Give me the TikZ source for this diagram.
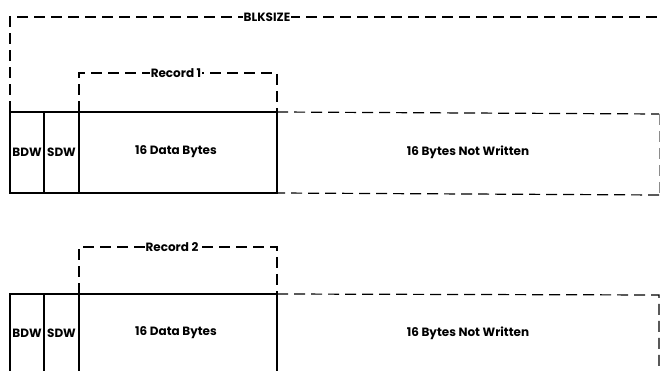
\documentclass[tikz,border=0pt]{standalone}
\usepackage{fontspec}
\setmainfont{Poppins}
\begin{document}
\begin{tikzpicture}[x=1pt,y=-1pt,
  solidline/.style={line width=1.6pt, line cap=rect},
  dashline/.style={line width=1.2pt, dash pattern=on 11pt off 6pt},
  faintdash/.style={line width=0.8pt, draw=black!45, dash pattern=on 11pt off 6pt},
  lbl/.style={font=\fontsize{12}{14}\selectfont\bfseries, inner sep=1pt, fill=white},
  cell/.style={font=\fontsize{12}{14}\selectfont\bfseries, inner sep=0pt}]
\useasboundingbox (0,0) rectangle (661,371);
% ---------- figure 1 ----------
\coordinate (a1) at (10,112); \coordinate (b1) at (44,112); \coordinate (c1) at (79,112); \coordinate (d1) at (277,112);
\coordinate (a1b) at (10,193); \coordinate (b1b) at (44,193); \coordinate (c1b) at (79,193); \coordinate (d1b) at (277,193);
\coordinate (tl1) at (10,17); \coordinate (tr1) at (661,17);
\coordinate (re1) at (659,114); \coordinate (re1b) at (659,195);
\coordinate (r1l) at (79,73); \coordinate (r1r) at (277,73);
\draw[dashline] (a1) -- (tl1) -- (tr1);
\node[lbl] (blk) at (267,17) {BLKSIZE};
\draw[dashline] (c1) -- (r1l) -- (r1r) -- (d1);
\node[lbl] (rec1) at (176,73) {Record 1};
\draw[solidline] (a1) rectangle (d1b);
\draw[solidline] (b1) -- (b1b);
\draw[solidline] (c1) -- (c1b);
\draw[dashline] (d1) -- (re1);
\draw[faintdash] (re1) -- (re1b);
\draw[dashline] (re1b) -- (d1b);
\node[cell] (bdw1) at (27,152) {BDW};
\node[cell] (sdw1) at (61.5,152) {SDW};
\node[cell] (data1) at (176,152) {16 Data Bytes};
\node[cell] (nw1) at (468,152) {16 Bytes Not Written};
% ---------- figure 2 ----------
\coordinate (a2) at (10,294); \coordinate (b2) at (44,294); \coordinate (c2) at (79,294); \coordinate (d2) at (277,294);
\coordinate (a2b) at (10,372); \coordinate (b2b) at (44,372); \coordinate (c2b) at (79,372); \coordinate (d2b) at (277,372);
\coordinate (re2) at (659,295); \coordinate (re2b) at (659,372);
\coordinate (r2l) at (79,247); \coordinate (r2r) at (277,247);
\draw[dashline] (c2) -- (r2l) -- (r2r) -- (d2);
\node[lbl] (rec2) at (172,247) {Record 2};
\draw[solidline] (a2b) -- (a2) -- (d2) -- (d2b);
\draw[solidline] (b2) -- (b2b);
\draw[solidline] (c2) -- (c2b);
\draw[dashline] (d2) -- (re2) -- (re2b);
\node[cell] (bdw2) at (27,333) {BDW};
\node[cell] (sdw2) at (61.5,333) {SDW};
\node[cell] (data2) at (176,333) {16 Data Bytes};
\node[cell] (nw2) at (468,333) {16 Bytes Not Written};
\end{tikzpicture}
\end{document}
